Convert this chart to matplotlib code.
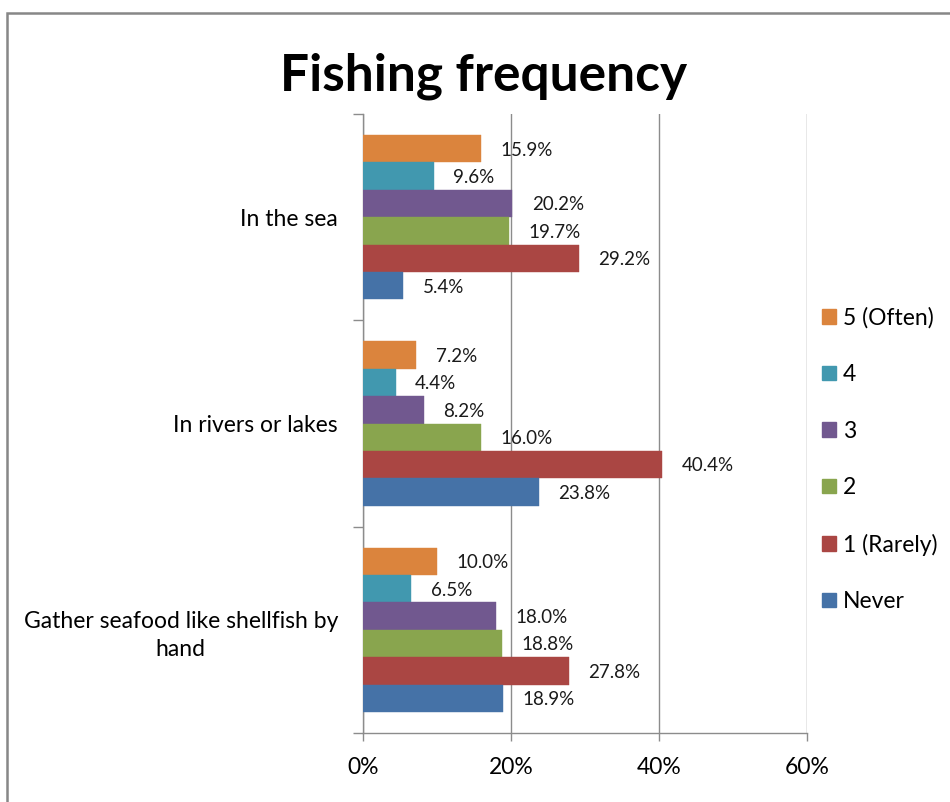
import matplotlib
matplotlib.use("Agg")
import matplotlib.pyplot as plt
from matplotlib.patches import Rectangle, Patch
import numpy as np

plt.rcParams['font.family'] = ['Lato', 'DejaVu Sans']

# ---- data ----
categories = ["In the sea", "In rivers or lakes", "Gather seafood like shellfish by\nhand"]
series_names = ["5 (Often)", "4", "3", "2", "1 (Rarely)", "Never"]
often = [15.9, 7.2, 10.0]
four = [9.6, 4.4, 6.5]
three = [20.2, 8.2, 18.0]
two = [19.7, 16.0, 18.8]
rarely = [29.2, 40.4, 27.8]
never = [5.4, 23.8, 18.9]
series_values = [often, four, three, two, rarely, never]
series_colors = ["#DB843D", "#4198AF", "#71588F", "#89A54E", "#AA4643", "#4572A7"]
x_ticks = [0, 20, 40, 60]
x_tick_labels = ["0%", "20%", "40%", "60%"]

W, H = 950, 802
fig = plt.figure(figsize=(W / 100, H / 100), dpi=100)

# outer chart border
fig.patches.append(Rectangle((7 / W, -0.05), 1.2, 1 - 13 / H + 0.05,
                             transform=fig.transFigure, fill=False,
                             edgecolor="#878787", linewidth=1.8, clip_on=False))

ax = fig.add_axes([363 / W, 1 - 733 / H, (807 - 363) / W, (733 - 114) / H])

grid_col = "#8C8C8C"
n = len(series_names)
h = 0.1328
ypos = np.arange(len(categories))
for k, (name, vals, col) in enumerate(zip(series_names, series_values, series_colors)):
    y = ypos + (k - (n - 1) / 2) * h
    ax.barh(y, vals, height=h, color=col, label=name, zorder=3,
            edgecolor=col, linewidth=0.3)
    for yi, v in zip(y, vals):
        ax.annotate(f"{v:.1f}%", xy=(v, yi), xytext=(14, -1), textcoords="offset points",
                    ha="left", va="center", fontsize=13.5, color="#1a1a1a", zorder=4)

ax.set_xlim(0, 60)
ax.set_ylim(len(categories) - 0.5, -0.5)

ax.set_xticks(x_ticks)
ax.set_xticklabels(x_tick_labels, fontsize=16.5)
ax.set_yticks(ypos)
ax.set_yticklabels(categories, fontsize=16.5, multialignment="center", linespacing=1.45)
ax.set_yticks(np.arange(-0.5, len(categories)), minor=True)

ax.tick_params(axis="y", which="major", length=0, pad=18)
ax.tick_params(axis="y", which="minor", length=7, width=1, color=grid_col, direction="out")
ax.tick_params(axis="x", which="major", length=6, width=1, color=grid_col, direction="out", pad=11)

for s in ["top", "right"]:
    ax.spines[s].set_visible(False)
for s in ["left", "bottom"]:
    ax.spines[s].set_color(grid_col)
    ax.spines[s].set_linewidth(1)

ax.xaxis.grid(True, color=grid_col, linewidth=1, zorder=0)
ax.set_axisbelow(True)

fig.text(484 / W, 1 - 91 / H, "Fishing frequency", ha="center", va="baseline",
         fontsize=37, fontweight="bold", color="black")

handles = [Patch(facecolor=c, edgecolor=c) for c in series_colors]
fig.legend(handles, series_names, loc="upper left",
           bbox_to_anchor=(822 / W, 1 - 307 / H), frameon=False, fontsize=16.5,
           handlelength=0.6, handleheight=0.6, handletextpad=0.3,
           labelspacing=1.55, borderpad=0, borderaxespad=0)

fig.savefig("out.png", dpi=100)
